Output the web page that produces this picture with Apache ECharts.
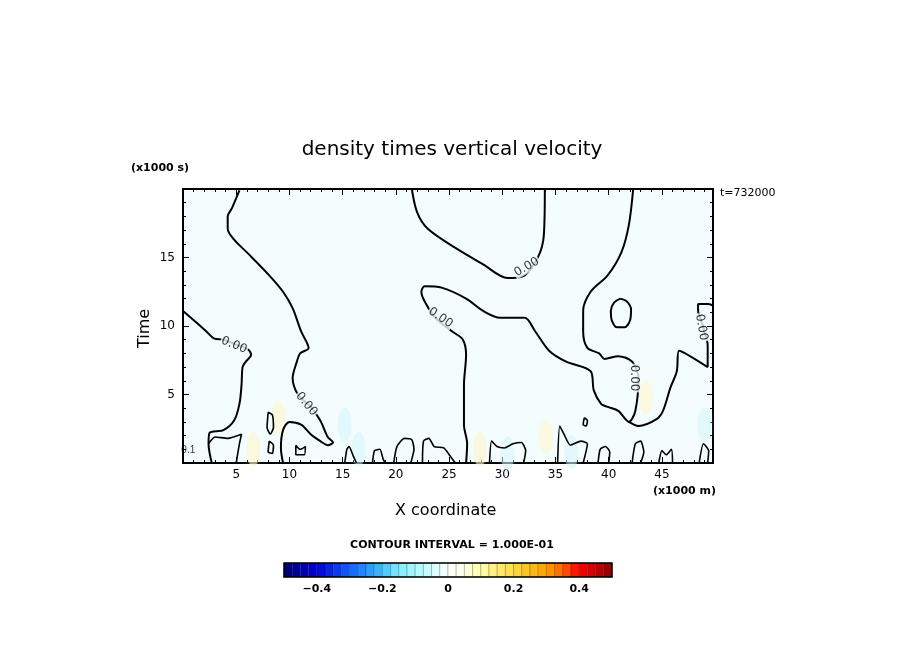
<!DOCTYPE html>
<html><head><meta charset="utf-8">
<script src="https://cdn.jsdelivr.net/npm/echarts@6/dist/echarts.min.js"></script>
<style>html,body{margin:0;padding:0;background:#fff}#c{width:904px;height:654px}</style>
</head><body><div id="c"></div>
<script>
// contour lines (x in 1000 m, y in 1000 s)
const lineA=[[5.3,19.9],[4.6,18.6],[4.2,18.0],[4.2,17.1],[4.8,16.3],[6.1,15.3],[8.1,13.7],[9.4,12.5],[10.3,11.3],[11.1,9.6],[11.8,8.4],[11.0,8.0],[10.7,7.4],[10.3,6.2],[10.8,5.0],[12.0,4.1],[12.9,3.1],[13.6,1.9],[14.1,1.5],[13.6,1.3],[12.9,1.6],[12.0,2.1],[11.1,2.8],[10.0,3.0],[9.4,2.4],[9.2,1.1],[9.4,0.0]];
const lineB=[[0,11.1],[0.9,10.5],[2.2,9.6],[2.9,9.1],[3.8,9.0],[4.8,8.7],[6.1,8.3],[6.4,7.9],[5.9,7.4],[5.6,7.0],[5.5,5.7],[5.3,4.3],[4.8,3.1],[3.8,2.4],[2.5,2.2],[2.4,1.4],[2.7,0.0]];
const lineC=[[21.5,20],[22.0,18.3],[23.0,17.1],[25.6,15.7],[28.2,14.5],[30.5,13.5],[32.1,13.7],[33.4,15.1],[33.9,16.6],[34.0,20]];
const lineD=[[26.6,0.0],[26.7,1.4],[26.4,2.8],[26.4,5.7],[26.6,7.9],[26.3,9.0],[25.3,9.6],[23.7,10.6],[22.7,11.8],[22.4,12.5],[22.7,12.9],[24.3,12.8],[26.6,12.0],[28.2,11.1],[29.8,10.6],[32.1,10.6],[33.1,9.6],[34.4,8.2],[36.0,7.4],[38.3,6.7],[38.6,5.3],[39.3,4.3],[39.9,4.1],[40.9,3.8],[41.9,3.0],[42.5,3.8],[42.8,6.2],[42.2,7.4],[40.9,7.8],[39.6,7.6],[39.1,8.0],[38.0,8.4],[37.6,9.6],[37.6,11.1],[38.3,12.5],[39.9,13.7],[41.2,15.4],[41.9,17.4],[42.3,20]];
const lineE=[[41.9,3.0],[42.8,2.7],[44.5,3.2],[45.1,3.8],[45.8,5.5],[46.4,6.7],[46.6,8.2],[49.3,7.0],[49.3,8.6],[49.0,9.6],[48.6,10.6],[48.4,11.1],[48.4,11.6],[49.3,11.6],[49.8,11.5]];
const loop1=[[41.1,12.0],[41.7,11.8],[42.1,11.2],[42.0,10.4],[41.5,9.9],[40.8,9.9],[40.3,10.4],[40.2,11.1],[40.5,11.7],[41.1,12.0]];
const bumps=[
 [[2.4,1.4],[3.0,1.9],[4.2,1.8],[5.5,2.1],[5.3,1.4],[5.0,0.0]],
 [[8.0,3.7],[8.4,3.5],[8.5,2.6],[8.2,2.1],[7.9,2.6],[8.0,3.7]],
 [[8.1,1.6],[8.5,1.3],[8.4,0.7],[8.0,0.8],[8.1,1.6]],
 [[10.6,1.3],[11.0,1.0],[11.5,1.2],[11.4,0.6],[10.6,0.6],[10.6,1.3]],
 [[15.2,0.0],[15.4,1.0],[15.6,1.2],[16.0,0.5],[16.3,0.0]],
 [[17.8,0.0],[18.0,0.9],[18.5,1.0],[18.8,0.3],[19.0,0.0]],
 [[19.8,0.0],[20.1,1.2],[20.8,1.8],[21.5,1.7],[21.7,1.0],[21.4,0.0]],
 [[22.5,0.0],[22.6,1.6],[23.1,1.8],[23.6,1.2],[24.5,1.1],[25.2,0.4],[25.6,0.0]],
 [[28.8,0.0],[29.0,1.6],[29.5,1.2],[30.2,1.1],[31.0,1.4],[31.8,1.5],[32.2,0.9],[32.0,0.0]],
 [[35.2,0.0],[35.4,2.7],[35.8,2.1],[36.4,1.3],[37.4,1.6],[38.0,1.4],[37.6,0.0]],
 [[37.7,3.3],[38.0,3.1],[37.9,2.7],[37.6,2.8],[37.7,3.3]],
 [[39.0,0.0],[39.2,1.0],[39.7,1.2],[40.1,0.8],[40.0,0.0]],
 [[42.2,0.0],[42.5,1.4],[43.0,1.6],[43.3,0.8],[43.0,0.0]],
 [[44.7,0.0],[45.0,0.9],[45.4,0.6],[45.9,1.0],[46.0,0.0]],
 [[48.5,0.0],[48.9,1.4],[49.4,0.9],[49.3,0.0]]
];
const labelPts=[[4.8,8.6,-22],[11.6,4.3,-50],[24.2,10.6,-35],[32.3,14.3,30],[42.4,6.2,-90],[48.7,9.9,-80]];
const blobX=[6.6,9.0,15.2,16.5,27.9,30.5,34.1,43.5,49.0,36.5];
const blobY=[1.0,3.3,2.8,1.0,1.0,0.7,1.9,4.8,2.8,0.8];
const blobVal=[0.05,0.03,-0.03,-0.03,0.05,-0.04,0.05,0.04,-0.03,-0.04];
const xTicks=[5,10,15,20,25,30,35,40,45];
const yTicks=[5,10,15];
const cbarLevels=[];for(let i=0;i<40;i++)cbarLevels.push(-0.5+i*0.025);
const cbarLabels=[-0.4,-0.2,0,0.2,0.4];

const stops=[[-0.5,[0,0,112]],[-0.4,[0,0,210]],[-0.3,[16,96,255]],[-0.2,[64,192,255]],[-0.15,[128,240,255]],[-0.05,[210,255,255]],[0,[255,255,255]],[0.05,[255,255,235]],[0.1,[255,255,170]],[0.2,[255,220,64]],[0.3,[255,160,0]],[0.35,[255,96,0]],[0.4,[255,0,0]],[0.5,[140,0,0]]];
function col(v){for(let i=0;i<stops.length-1;i++){const a=stops[i],b=stops[i+1];if(v<=b[0]){const t=(v-a[0])/(b[0]-a[0]);const c=a[1].map((q,k)=>Math.round(q+(b[1][k]-q)*t));return 'rgb('+c.join(',')+')';}}return 'rgb(140,0,0)';}
function blobCol(v){return v>0?'rgba(253,246,200,0.7)':'rgba(205,243,250,0.6)';}

const ln=(d)=>({type:'line',xAxisIndex:0,yAxisIndex:0,data:d,symbol:'none',smooth:0.3,lineStyle:{color:'#000',width:2},z:5,silent:true});
const series=[
 {type:'scatter',xAxisIndex:0,yAxisIndex:0,data:blobX.map((x,i)=>[x,blobY[i],blobVal[i]]),symbol:'circle',symbolSize:(v)=>[14,34],itemStyle:{color:(p)=>blobCol(p.value[2]),shadowBlur:6,shadowColor:'rgba(255,255,255,0.5)'},z:2,silent:true},
 ln(lineA),ln(lineB),ln(lineC),ln(lineD),ln(lineE),ln(loop1),
 ...bumps.map(b=>({...ln(b),lineStyle:{color:'#000',width:1.6},smooth:0.2})),
 {type:'scatter',xAxisIndex:0,yAxisIndex:0,data:labelPts.map(p=>[p[0],p[1]]),symbolSize:1,itemStyle:{color:'transparent'},z:10,
  label:{show:true,position:'inside',formatter:'0.00',fontFamily:'DejaVu Sans',fontSize:12,color:'#000',backgroundColor:'#f3fdfd',padding:[0,1]},silent:true,
  labelLayout:(p)=>({rotate:labelPts[p.dataIndex][2]})},
 {type:'scatter',xAxisIndex:0,yAxisIndex:0,data:[[0.5,0.9]],symbolSize:1,itemStyle:{color:'transparent'},z:10,label:{show:true,formatter:'0.1',fontSize:10,color:'#000',position:'inside'}},
 {type:'custom',xAxisIndex:2,yAxisIndex:2,data:cbarLevels.map(v=>[v]),renderItem:(params,api)=>{
   const v=api.value(0);const p0=api.coord([v,0]);const p1=api.coord([v+0.025,1]);
   return {type:'rect',shape:{x:p0[0],y:p1[1],width:p1[0]-p0[0],height:p0[1]-p1[1]},style:{fill:col(v+0.0125),stroke:'rgba(0,0,0,0.35)',lineWidth:0.6}};
 },z:3}
];
const axLine={show:true,onZero:false,lineStyle:{color:'#000',width:2}};
const tk={show:true,inside:true,length:6,lineStyle:{color:'#000',width:1}};
const mtk={show:true,splitNumber:5,length:3,lineStyle:{color:'#000'}};
const opt={
 animation:false,
 grid:[{left:183,top:189,width:530,height:274,show:true,backgroundColor:'#f3fdfd',borderWidth:0},
       {left:284,top:563,width:328,height:14,show:false}],
 xAxis:[
  {gridIndex:0,type:'value',min:0,max:49.8,interval:5,position:'bottom',axisLine:axLine,axisTick:tk,minorTick:mtk,splitLine:{show:false},
   axisLabel:{fontFamily:'DejaVu Sans',fontSize:12,color:'#000',formatter:(v)=>xTicks.includes(v)?String(v):'',margin:6}},
  {gridIndex:0,type:'value',min:0,max:49.8,interval:5,position:'top',axisLine:axLine,axisTick:tk,minorTick:mtk,splitLine:{show:false},axisLabel:{show:false}},
  {gridIndex:1,type:'value',min:-0.5,max:0.5,interval:0.1,axisLine:{show:false},axisTick:{show:false},splitLine:{show:false},
   axisLabel:{fontFamily:'DejaVu Sans',fontSize:11,fontWeight:'bold',color:'#000',margin:7,formatter:(v)=>{const r=Math.round(v*10)/10;return cbarLabels.includes(r)?(r===0?'0':String(r).replace('-','\u2212')):'';}}}
 ],
 yAxis:[
  {gridIndex:0,type:'value',min:0,max:20,interval:5,position:'left',axisLine:axLine,axisTick:tk,minorTick:mtk,splitLine:{show:false},
   axisLabel:{fontFamily:'DejaVu Sans',fontSize:12,color:'#000',formatter:(v)=>yTicks.includes(v)?String(v):'',margin:8}},
  {gridIndex:0,type:'value',min:0,max:20,interval:5,position:'right',axisLine:axLine,axisTick:tk,minorTick:mtk,splitLine:{show:false},axisLabel:{show:false}},
  {gridIndex:1,type:'value',min:0,max:1,show:false}
 ],
 series:series,
 graphic:[
  {type:'text',left:'center',top:140,style:{text:'density times vertical velocity',font:'20px "DejaVu Sans"',fill:'#000'}},
  {type:'text',left:131,top:163,style:{text:'(x1000 s)',font:'bold 11px "DejaVu Sans"',fill:'#000'}},
  {type:'text',left:720,top:188,style:{text:'t=732000',font:'11px "DejaVu Sans"',fill:'#000'}},
  {type:'text',left:653,top:486,style:{text:'(x1000 m)',font:'bold 11px "DejaVu Sans"',fill:'#000'}},
  {type:'text',left:395,top:503,style:{text:'X coordinate',font:'16px "DejaVu Sans"',fill:'#000'}},
  {type:'text',x:137,y:348,rotation:Math.PI/2,style:{text:'Time',font:'16px "DejaVu Sans"',fill:'#000'}},
  {type:'text',left:'center',top:540,style:{text:'CONTOUR INTERVAL = 1.000E-01',font:'bold 11px "DejaVu Sans"',fill:'#000'}},
  {type:'rect',shape:{x:284,y:563,width:328,height:14},style:{fill:'none',stroke:'#000',lineWidth:1.5},z:100}
 ]
};
echarts.init(document.getElementById('c')).setOption(opt);
</script></body></html>
